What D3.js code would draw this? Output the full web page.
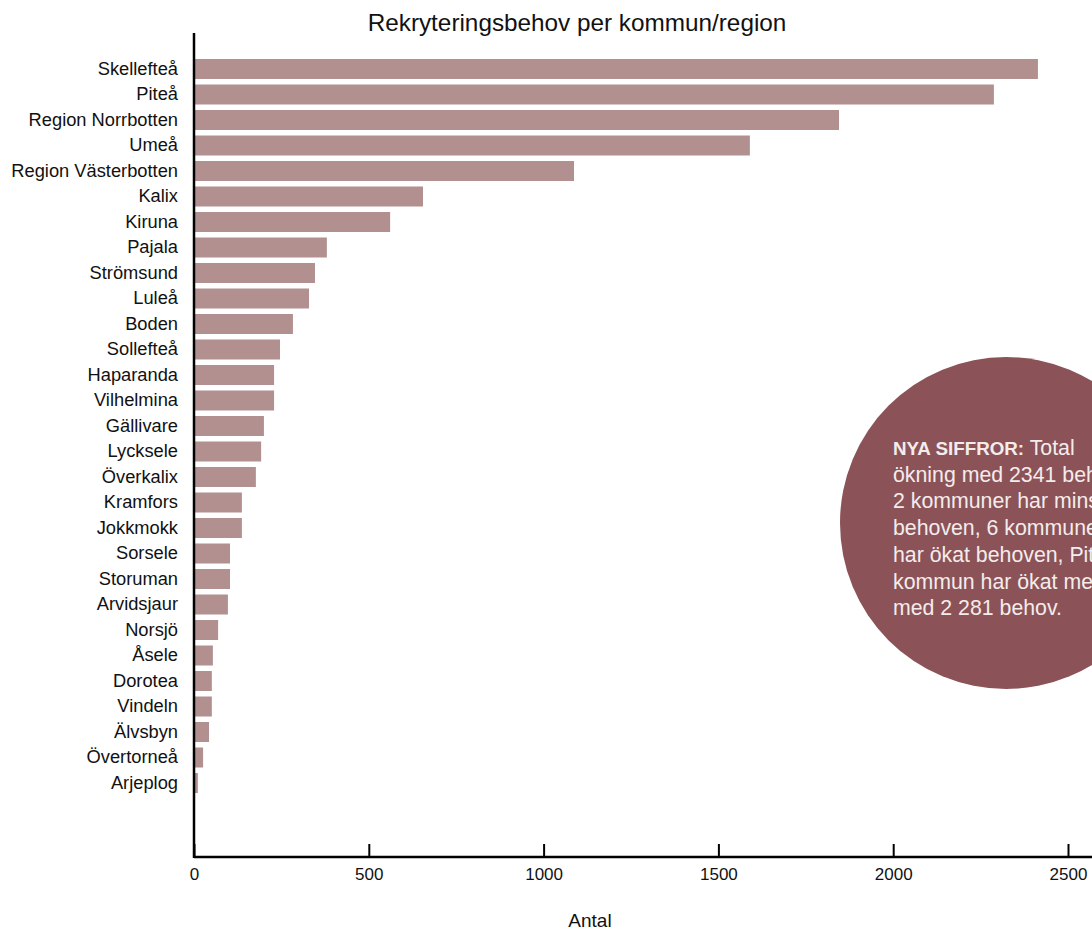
<!DOCTYPE html>
<html>
<head>
<meta charset="utf-8">
<script src="https://cdn.jsdelivr.net/npm/d3@7"></script>
<style>
  html, body { margin: 0; padding: 0; background: #fff; }
  svg { display: block; font-family: "Liberation Sans", Arial, sans-serif; }
</style>
</head>
<body>
<svg id="chart" width="1092" height="930"></svg>
<script>
const categories = ["Skellefteå","Piteå","Region Norrbotten","Umeå","Region Västerbotten","Kalix","Kiruna","Pajala","Strömsund","Luleå","Boden","Sollefteå","Haparanda","Vilhelmina","Gällivare","Lycksele","Överkalix","Kramfors","Jokkmokk","Sorsele","Storuman","Arvidsjaur","Norsjö","Åsele","Dorotea","Vindeln","Älvsbyn","Övertorneå","Arjeplog"];
const values = [2414,2288,1845,1590,1087,655,561,380,346,329,283,246,229,229,200,192,177,137,137,103,103,97,69,54,51,51,43,26,11];
const xTicks = [0,500,1000,1500,2000,2500];
const titleText = "Rekryteringsbehov per kommun/region";
const xLabel = "Antal";
const noteBold = "NYA SIFFROR:";
const noteLines = [" Total","ökning med 2341 behov.","2 kommuner har minskat","behoven, 6 kommuner","har ökat behoven, Piteå","kommun har ökat mest","med 2 281 behov."];

const svg = d3.select("#chart");
const x = d3.scaleLinear().domain([0, 2600]).range([194, 194 + 2600 * 0.3496]);
const y = d3.scaleBand().domain(categories)
  .range([56.25, 56.25 + categories.length * 25.5])
  .paddingInner(0.2157).paddingOuter(0.1078);

// bars
svg.append("g").selectAll("rect").data(values).join("rect")
  .attr("x", x(0))
  .attr("y", (d, i) => y(categories[i]))
  .attr("width", d => x(d) - x(0))
  .attr("height", y.bandwidth())
  .attr("fill", "#b1908f");

// y axis labels
const yAxis = svg.append("g").attr("transform", `translate(${x(0)},0)`)
  .call(d3.axisLeft(y).tickSize(0).tickPadding(16));
yAxis.select(".domain").remove();
yAxis.selectAll("text").attr("font-size", 18.3).attr("fill", "#111")
  .attr("font-family", '"Liberation Sans", Arial, sans-serif');

// x axis
const axisY = 857;
const xAxis = svg.append("g").attr("transform", `translate(0,${axisY})`)
  .call(d3.axisBottom(x).tickValues(xTicks).tickSize(-13).tickPadding(8).tickFormat(d3.format("d")));
xAxis.select(".domain").remove();
xAxis.selectAll(".tick line").attr("stroke", "#000").attr("stroke-width", 2);
xAxis.selectAll("text").attr("font-size", 17).attr("fill", "#111").attr("dy", "0.9em")
  .attr("font-family", '"Liberation Sans", Arial, sans-serif');

// axis lines
svg.append("line").attr("x1", x(0)).attr("x2", 1092).attr("y1", axisY).attr("y2", axisY)
  .attr("stroke", "#000").attr("stroke-width", 2.5);
svg.append("line").attr("x1", x(0)).attr("x2", x(0)).attr("y1", 33).attr("y2", axisY + 1)
  .attr("stroke", "#000").attr("stroke-width", 2.5);

// title
svg.append("text").attr("x", 577).attr("y", 31).attr("text-anchor", "middle")
  .attr("font-size", 24.3).attr("fill", "#111").text(titleText);

// x label
svg.append("text").attr("x", 590).attr("y", 927).attr("text-anchor", "middle")
  .attr("font-size", 19).attr("fill", "#111").text(xLabel);

// annotation circle
svg.append("circle").attr("cx", 1006).attr("cy", 523).attr("r", 166).attr("fill", "#8b5357");
const note = svg.append("text").attr("x", 893).attr("y", 455).attr("fill", "#f4ecec").attr("font-size", 21.3);
note.append("tspan").attr("font-weight", "bold").attr("font-size", 18.8).text(noteBold);
noteLines.forEach((l, i) => {
  if (i === 0) note.append("tspan").text(l);
  else note.append("tspan").attr("x", 893).attr("dy", 26.7).text(l);
});
</script>
</body>
</html>
